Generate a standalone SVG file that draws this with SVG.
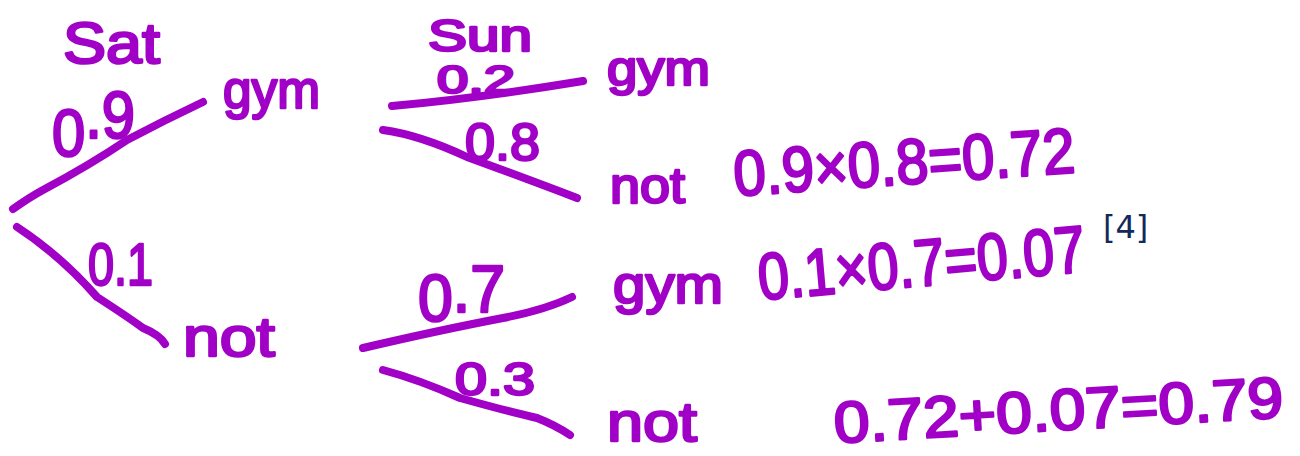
<svg xmlns="http://www.w3.org/2000/svg" width="1300" height="456" viewBox="0 0 1300 456">
<style>
.hw{font-family:"Liberation Sans","Open Sans",sans-serif;fill:#a100c6;stroke:#a100c6;stroke-width:2.5;stroke-linejoin:round}
.br{fill:none;stroke:#a100c6;stroke-width:8;stroke-linecap:round;stroke-linejoin:round}
.mk{font-family:"DejaVu Sans","Liberation Sans",sans-serif;font-size:32px;fill:#12295a}
</style>
<rect width="1300" height="456" fill="#ffffff"/>
<g id="connectors">
<path class="br" d="M13,209 Q30,197 43,190 Q90,165 127,140 Q165,120 203,102"/>
<path class="br" d="M17,227 Q60,255 97,297 Q125,315 143,328 Q160,335 165,344"/>
<path class="br" d="M392,106 Q480,98 583,81"/>
<path class="br" d="M383,130 Q420,135 467,157 Q530,180 577,198"/>
<path class="br" d="M363,348 Q440,330 503,318 Q545,310 572,297"/>
<path class="br" d="M383,370 Q420,380 460,398 Q510,412 537,418 Q555,425 570,435"/>
</g>
<g id="sat-header"><text class="hw" x="63" y="63" font-size="58" textLength="97" lengthAdjust="spacingAndGlyphs">Sat</text></g>
<g id="sun-header"><text class="hw" x="428" y="51" font-size="44" textLength="104" lengthAdjust="spacingAndGlyphs">Sun</text></g>
<g id="p-sat-gym"><text class="hw" x="52" y="156" font-size="66" textLength="83" lengthAdjust="spacingAndGlyphs">0<tspan dy="-18">.9</tspan></text></g>
<g id="sat-gym"><text class="hw" x="223" y="108" font-size="54" textLength="97" lengthAdjust="spacingAndGlyphs">gym</text></g>
<g id="p-sat-not"><text class="hw" x="88" y="285" font-size="60" textLength="65" lengthAdjust="spacingAndGlyphs">0.1</text></g>
<g id="sat-not"><text class="hw" x="183" y="356" font-size="56" textLength="92" lengthAdjust="spacingAndGlyphs">not</text></g>
<g id="p-gym-gym"><text class="hw" x="437" y="93" font-size="38" textLength="78" lengthAdjust="spacingAndGlyphs">0.2</text></g>
<g id="gym-gym"><text class="hw" x="607" y="85" font-size="48" textLength="103" lengthAdjust="spacingAndGlyphs">gym</text></g>
<g id="p-gym-not"><text class="hw" x="465" y="160" font-size="52" textLength="75" lengthAdjust="spacingAndGlyphs">0.8</text></g>
<g id="gym-not"><text class="hw" x="610" y="203" font-size="50" textLength="75" lengthAdjust="spacingAndGlyphs">not</text></g>
<g id="p-not-gym"><text class="hw" x="418" y="321" font-size="66" textLength="87" lengthAdjust="spacingAndGlyphs">0<tspan dy="-9">.7</tspan></text></g>
<g id="not-gym"><text class="hw" x="613" y="303" font-size="54" textLength="110" lengthAdjust="spacingAndGlyphs">gym</text></g>
<g id="p-not-not"><text class="hw" x="455" y="395" font-size="46" textLength="80" lengthAdjust="spacingAndGlyphs">0.3</text></g>
<g id="not-not"><text class="hw" x="607" y="441" font-size="56" textLength="90" lengthAdjust="spacingAndGlyphs">not</text></g>
<g id="calc1"><text class="hw" x="735" y="196" font-size="64" textLength="342" lengthAdjust="spacingAndGlyphs" transform="rotate(-4 735 196)">0.9×0.8=0.72</text></g>
<g id="calc2"><text class="hw" x="760" y="300" font-size="66" textLength="328" lengthAdjust="spacingAndGlyphs" transform="rotate(-5 760 300)">0.1×0.7=0.07</text></g>
<g id="mark"><text class="mk" x="1103" y="238">[4]</text></g>
<g id="calc3"><text class="hw" x="835" y="443" font-size="58" textLength="450" lengthAdjust="spacingAndGlyphs" transform="rotate(-3.3 835 443)">0.72+0.07=0.79</text></g>
</svg>
